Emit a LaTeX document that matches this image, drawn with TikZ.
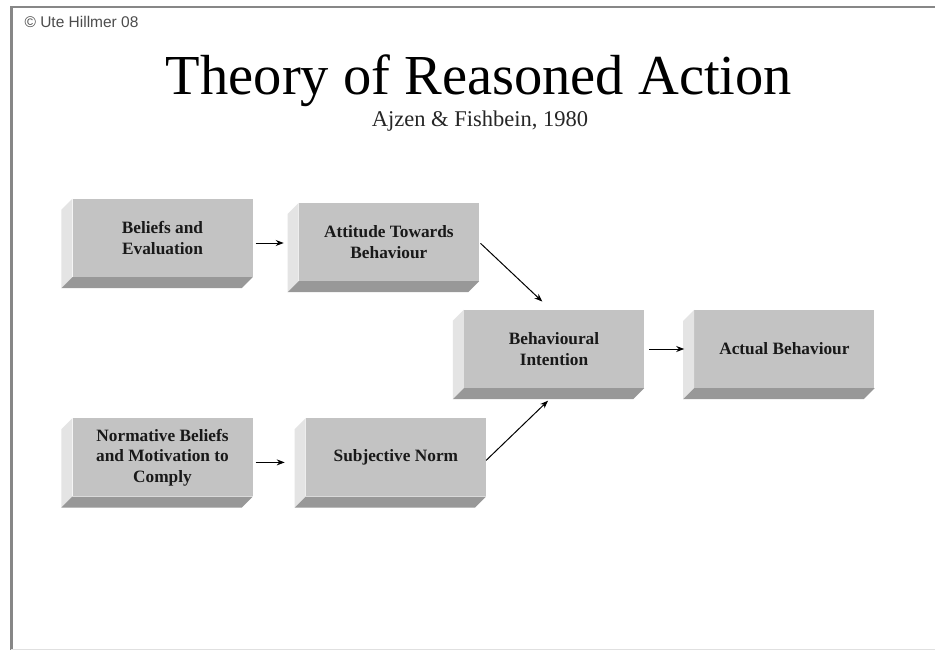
\documentclass[tikz,border=0pt]{standalone}
\usepackage{fontspec}
\setmainfont{Liberation Serif}
\newfontfamily\notefont{Liberation Sans}
\usetikzlibrary{arrows.meta, positioning}

\definecolor{facegray}{RGB}{195,195,195}
\definecolor{sidelight}{RGB}{228,228,228}
\definecolor{sidedark}{RGB}{152,152,152}
\definecolor{framegray}{RGB}{135,135,135}

\begin{document}
\begin{tikzpicture}[
        x=1pt, y=-1pt,
        block/.style={rectangle, fill=facegray, minimum width=180pt, minimum height=78pt, inner sep=0pt, align=center, text=black!90, font=\bfseries\fontsize{17.3}{20.5}\selectfont},
        leftface/.style={fill=sidelight},
        bottomface/.style={fill=sidedark},
        arrow/.style={-{Stealth[length=8pt, width=6pt]}, line width=1pt}
    ]
    \useasboundingbox[fill=white] (0,0) rectangle (935,650);

    % Frame
    \draw[framegray, line width=2pt] (10,7) -- (935,7);
    \draw[framegray, line width=3pt] (11,7) -- (11,650);
    \draw[black!12, line width=1pt] (11,649.5) -- (935,649.5);

    % Headings
    \node[font=\notefont\fontsize{15.5}{17}\selectfont, text=black!70, anchor=base west] (credit) at (21,28) {\textcopyright\ Ute Hillmer 08};
    \node[font=\fontsize{56.5}{60}\selectfont, anchor=base] (title) at (479,95) {Theory of Reasoned Action};
    \node[font=\fontsize{22.5}{26}\selectfont, text=black!85, anchor=base] (author) at (480,127) {Ajzen \& Fishbein, 1980};

    % Nodes
    \node[block] (beliefs) at (162.5,238) {Beliefs and\\Evaluation};
    \node[block, right=46pt of beliefs, yshift=-4pt] (attitude) {Attitude Towards\\Behaviour};
    \node[block] (intention) at (554,349) {Behavioural\\Intention};
    \node[block, right=50pt of intention] (actual) {Actual Behaviour};
    \node[block, below=141pt of beliefs] (normative) {Normative Beliefs\\and Motivation to\\Comply};
    \node[block, right=53pt of normative] (norm) {Subjective Norm};

    % 3D sides
    \foreach \b in {beliefs, attitude, intention, actual, normative, norm} {
        \fill[leftface] (\b.north west) -- ([shift={(-11pt,-11pt)}]\b.north west) -- ([shift={(-11pt,-11pt)}]\b.south west) -- (\b.south west) -- cycle;
        \fill[bottomface] (\b.south west) -- ([shift={(-11pt,-11pt)}]\b.south west) -- ([shift={(-11pt,-11pt)}]\b.south east) -- (\b.south east) -- cycle;
    }

    % Arrows
    \draw[arrow, shorten <=3pt, shorten >=15pt] ([yshift=-5pt]beliefs.east) -- ([yshift=-1pt]attitude.west);
    \draw[arrow, shorten <=2pt, shorten >=12pt] (attitude.east) -- ([xshift=-3pt]intention.north);
    \draw[arrow, shorten <=5pt, shorten >=10pt] (intention.east) -- (actual.west);
    \draw[arrow, shorten <=3pt, shorten >=21pt] ([yshift=-5pt]normative.east) -- ([yshift=-5pt]norm.west);
    \draw[arrow, shorten >=18pt] ([yshift=-3pt]norm.east) -- ([xshift=7pt]intention.south);

\end{tikzpicture}
\end{document}
